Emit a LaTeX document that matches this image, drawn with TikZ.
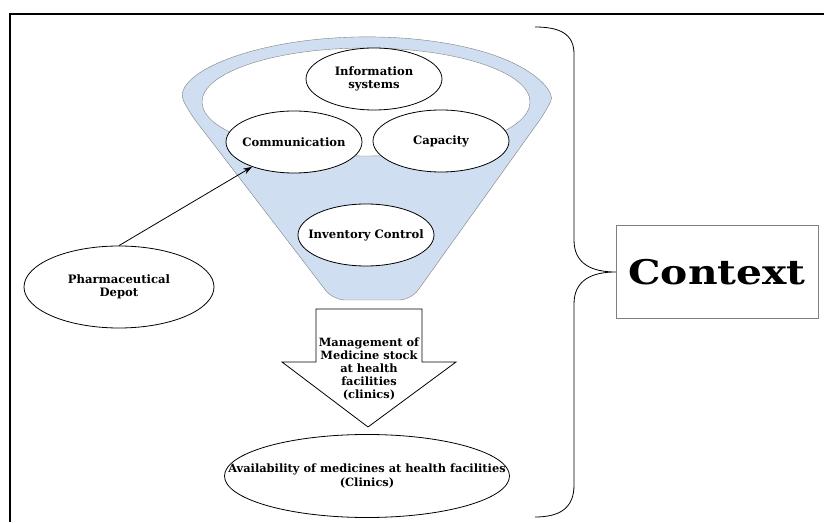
\documentclass[tikz,border=0pt]{standalone}
\usepackage{graphicx}
\usepackage{fontspec}
\setmainfont{DejaVu Serif}
\usetikzlibrary{shapes.geometric,arrows.meta}
\tikzset {>={Stealth[length=9pt,width=6pt]}}
\definecolor{funnelblue}{RGB}{207,222,240}
\definecolor{rimgray}{RGB}{128,128,128}
\tikzset{
  bubble/.style={ellipse,draw,line width=0.8pt,fill=white,inner sep=0pt},
  factor/.style={bubble,minimum width=136pt,minimum height=62pt},
  big/.style={align=center,font=\fontsize{11.6}{13}\selectfont\bfseries},
  small/.style={align=center,font=\fontsize{11.4}{13.2}\selectfont\bfseries}
}

\begin{document}
\begin{tikzpicture}[x=1pt,y=1pt]
\useasboundingbox (0,0) rectangle (824,522);
\draw[line width=1.5pt] (10,0) -- (10,508) -- (824,508);

% funnel
\draw[rimgray,fill=funnelblue,rounded corners=12pt]
  (189,410) arc[start angle=190,end angle=-10,x radius=181,y radius=64] --
  (411,222) -- (333,222) -- cycle;
\draw[rimgray,fill=white] (366,420) ellipse[x radius=164,y radius=54];

\node[factor,label={[big]center:Information\\systems}] (info) at (374,443) {};
\node[factor,label={[big]center:Communication}] (comm) at (294,380) {};
\node[factor,label={[big]center:Capacity}] (cap) at (441,381) {};
\node[factor,label={[big]center:Inventory Control}] (inv) at (366,287) {};

\node[bubble,minimum width=190pt,minimum height=82pt,
  label={[big]center:Pharmaceutical\\Depot}] (depot) at (119,235) {};
\draw[->,line width=0.8pt] (depot.north) -- (comm);

% flow arrow
\draw[line width=0.8pt]
  (316,213) coordinate (s1) -- (422,213) coordinate (s2) --
  (422,160) -- (456,160) -- (368,95) coordinate (tip) --
  (282,160) -- (316,160) -- cycle;
\node[small] (mgmt) at (369,153) {Management of\\Medicine stock\\at health\\facilities\\(clinics)};

\node[bubble,minimum width=285pt,minimum height=83pt,
  label={[small]center:Availability of medicines at health facilities\\(Clinics)}] (avail) at (367,46) {};

% context
\node[draw=rimgray,minimum width=202pt,minimum height=93pt,
  font=\fontsize{34}{40}\selectfont\bfseries] (ctx) at (717,250) {\scalebox{1.2}[1]{Context}};
\draw[line width=0.8pt]
  (535,495) .. controls (560,495) and (574,488) .. (574,468) --
  (574,282) .. controls (574,258) and (592,250) .. (ctx.west)
  .. controls (592,250) and (574,242) .. (574,218) --
  (574,37) .. controls (574,14) and (560,5) .. (535,5);
\end{tikzpicture}
\end{document}
